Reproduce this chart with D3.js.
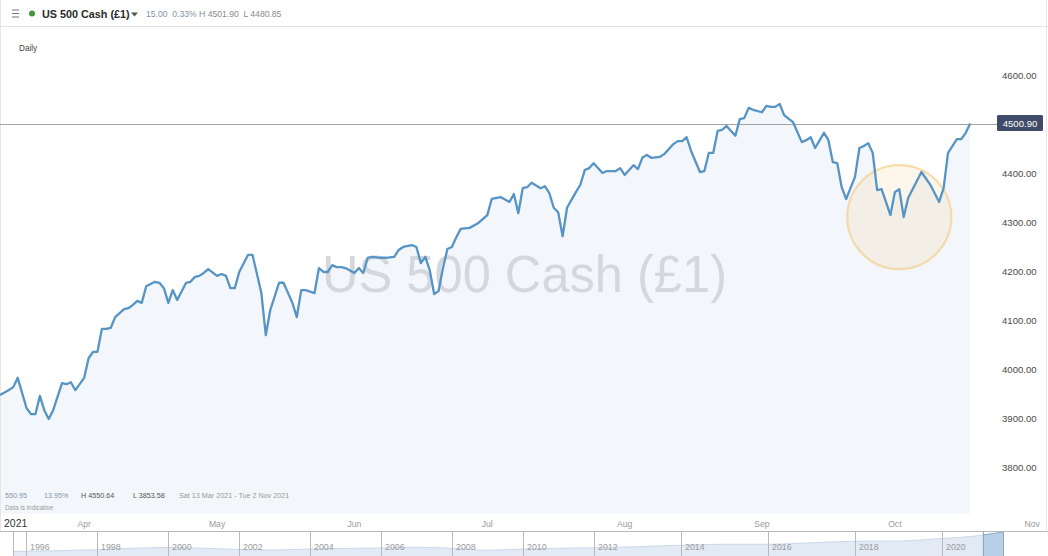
<!DOCTYPE html>
<html>
<head>
<meta charset="utf-8">
<script src="https://cdn.jsdelivr.net/npm/d3@7"></script>
<style>
  html, body { margin: 0; padding: 0; background: #fff; }
  svg { display: block; font-family: "Liberation Sans", Arial, "DejaVu Sans", sans-serif; }
</style>
</head>
<body>
<svg id="chart" width="1048" height="556"></svg>
<script>
// ---------------- DATA ----------------
const startDate = "2021-03-13";   // first day of the chart window
const endDate = "2021-11-02";     // last day of the chart window
// days since startDate for each price point
const days = [0,2,3,4,6,7,8,9,10,11,12,14,15,16,17,19,20,21,22,23,24,25,26,28,29,30,31,32,33,35,36,37,38,39,40,42,43,44,45,46,47,49,50,51,52,53,54,56,57,59,60,61,63,64,66,67,68,69,71,72,73,74,75,76,77,78,80,81,82,83,84,86,87,89,90,91,93,94,95,96,97,98,99,100,101,102,103,104,106,108,110,111,113,115,116,117,118,119,120,122,123,124,125,126,127,128,130,131,132,133,134,136,137,139,140,141,143,144,145,146,147,149,150,152,153,154,155,156,158,159,160,161,162,163,164,166,167,168,169,170,172,173,174,175,176,177,179,181,182,183,184,186,187,188,189,190,191,193,194,195,196,197,198,199,201,202,203,204,205,208,210,212,213,214,216,217,218,219];
const closes = [3947,3957,3963,3982,3920,3908,3908,3945,3916,3898,3916,3971,3969,3973,3957,3982,4022,4035,4035,4082,4082,4084,4106,4122,4124,4131,4139,4135,4169,4178,4176,4165,4135,4161,4141,4176,4178,4188,4190,4196,4204,4190,4194,4190,4165,4165,4198,4233,4233,4155,4069,4120,4176,4176,4135,4106,4161,4161,4155,4206,4198,4198,4212,4208,4208,4206,4196,4206,4196,4227,4229,4227,4227,4229,4243,4249,4253,4249,4216,4229,4202,4153,4159,4206,4245,4249,4269,4286,4288,4298,4314,4347,4351,4341,4357,4318,4369,4371,4380,4369,4373,4359,4329,4320,4271,4329,4361,4376,4406,4410,4420,4400,4404,4404,4410,4396,4416,4408,4431,4437,4431,4433,4439,4459,4465,4465,4473,4445,4402,4404,4441,4441,4486,4488,4496,4476,4510,4512,4533,4529,4524,4537,4535,4535,4541,4518,4504,4463,4467,4473,4451,4482,4467,4422,4420,4371,4347,4392,4451,4455,4461,4441,4365,4367,4314,4361,4367,4310,4349,4402,4376,4341,4369,4441,4469,4469,4482,4500.90];
const lastPrice = 4500.90;
const yTicks = [3800,3900,4000,4100,4200,4300,4400,4500,4600];
const yearLabel = "2021";
// highlighted zone (annotation): date and price of circle centre
const highlightDate = "2021-10-02";
const highlightValue = 4310;
// navigator (long-history overview)
const navYears = [1995.6,1996,1997,1998,1999,2000,2001,2002,2003,2004,2005,2006,2007,2008,2009,2010,2011,2012,2013,2014,2015,2016,2017,2018,2019,2020,2021,2021.8];
const navValues = [600,640,780,950,1250,1400,1250,1000,900,1100,1200,1300,1450,1250,850,1100,1250,1350,1550,1850,2050,2050,2350,2650,2700,3200,3700,4500];
const navTickYears = [1996,1998,2000,2002,2004,2006,2008,2010,2012,2014,2016,2018,2020];
// header / footer texts
const title = "US 500 Cash (£1)";
const headerChange = "15.00  0.33%";
const headerHL = "H 4501.90  L 4480.85";
const periodLabel = "Daily";
const statsTexts = ["550.95", "13.95%", "H 4550.64", "L 3853.58", "Sat 13 Mar 2021 - Tue 2 Nov 2021"];
const disclaimer = "Data is indicative";

// ---------------- DRAW ----------------
const W = 1048, H = 556;
const svg = d3.select("#chart");
const parse = d3.timeParse("%Y-%m-%d");
const t0 = parse(startDate), t1 = parse(endDate);
const data = days.map((d, i) => ({ date: d3.timeDay.offset(t0, d), value: closes[i] }));

const x = d3.scaleTime().domain([t0, t1]).range([0, d3.timeDay.count(t0, t1) * 4.43]);
const y = d3.scaleLinear().domain([3800, 4600]).range([467, 75]);
const plotBottom = 514;

// fill area
const area = d3.area().x(d => x(d.date)).y0(plotBottom).y1(d => y(d.value));
svg.append("path").datum(data).attr("d", area).attr("fill", "#f3f7fb");

// header
svg.append("line").attr("x1", 0).attr("x2", W).attr("y1", 26.5).attr("y2", 26.5).attr("stroke", "#e3e3e3");
[10, 13.5, 17].forEach(v => svg.append("line").attr("x1", 12).attr("x2", 19).attr("y1", v).attr("y2", v).attr("stroke", "#777").attr("stroke-width", 1));
svg.append("circle").attr("cx", 32).attr("cy", 13.5).attr("r", 3).attr("fill", "#3f9a3f");
svg.append("text").attr("x", 42).attr("y", 17.5).attr("font-size", 10.8).attr("fill", "#2a2a2a").attr("font-weight", "bold").text(title);
svg.append("path").attr("d", "M131,12.5 L138,12.5 L134.5,16.5 Z").attr("fill", "#555");
const ht = svg.append("text").attr("x", 146).attr("y", 17).attr("font-size", 8.6).attr("xml:space", "preserve");
ht.append("tspan").attr("fill", "#7f93aa").text(headerChange + " ");
ht.append("tspan").attr("fill", "#8a8a8a").text(headerHL);
svg.append("text").attr("x", 19).attr("y", 51).attr("font-size", 8.2).attr("fill", "#444").text(periodLabel);

// borders
svg.append("line").attr("x1", 0.5).attr("x2", 0.5).attr("y1", 0).attr("y2", 531).attr("stroke", "#e6e6e6");
svg.append("line").attr("x1", 1046.5).attr("x2", 1046.5).attr("y1", 0).attr("y2", 531).attr("stroke", "#e6e6e6");

// watermark
svg.append("text").attr("x", 322).attr("y", 292).attr("font-size", 52).attr("fill", "#d4d7db")
  .attr("textLength", 405).attr("lengthAdjust", "spacingAndGlyphs").text(title);

// highlight circle
svg.append("circle").attr("cx", x(parse(highlightDate))).attr("cy", y(highlightValue)).attr("r", 52)
  .attr("fill", "rgba(246,214,160,0.22)").attr("stroke", "rgba(242,205,130,0.65)").attr("stroke-width", 2.2);

// current price line
svg.append("line").attr("x1", 0).attr("x2", 997).attr("y1", Math.round(y(lastPrice)) + 0.5).attr("y2", Math.round(y(lastPrice)) + 0.5)
  .attr("stroke", "#9ea3a8").attr("stroke-width", 1);

// price line
const line = d3.line().x(d => x(d.date)).y(d => y(d.value));
svg.append("path").datum(data).attr("d", line).attr("fill", "none").attr("stroke", "#5694c6")
  .attr("stroke-width", 2.3).attr("stroke-linejoin", "round");

// y axis labels
const fmt = d3.format(".2f");
svg.append("g").selectAll("text").data(yTicks).join("text")
  .attr("x", 1002).attr("y", d => y(d) + 3.5).attr("font-size", 9.6).attr("fill", "#4a4a4a").text(d => fmt(d));
// last price tag
const ly = y(lastPrice);
svg.append("rect").attr("x", 997).attr("y", ly - 8.5).attr("width", 46).attr("height", 16).attr("rx", 1.5).attr("fill", "#3f4b68");
svg.append("text").attr("x", 1020).attr("y", ly + 3.5).attr("text-anchor", "middle").attr("font-size", 9.6).attr("fill", "#fff").text(fmt(lastPrice));

// stats row
const statsX = [5, 44, 81, 133, 179];
const statsCol = ["#7f93aa", "#7f93aa", "#555", "#555", "#999"];
svg.append("g").selectAll("text").data(statsTexts).join("text")
  .attr("x", (d, i) => statsX[i]).attr("y", 497.5).attr("font-size", 7.2).attr("fill", (d, i) => statsCol[i]).text(d => d);
svg.append("text").attr("x", 5).attr("y", 510).attr("font-size", 6.4).attr("fill", "#9a9a9a").text(disclaimer);

// x axis
svg.append("text").attr("x", 4).attr("y", 527).attr("font-size", 10.5).attr("fill", "#333").text(yearLabel);
const months = d3.timeMonth.range(d3.timeMonth.ceil(t0), t1);
svg.append("g").selectAll("text").data(months).join("text")
  .attr("x", d => x(d)).attr("y", 527).attr("text-anchor", "middle").attr("font-size", 8.6).attr("fill", "#9a9a9a")
  .text(d3.timeFormat("%b"));

// navigator
const nx = d3.scaleLinear().domain([1995.6, 1996, 2012, 2020, 2021.8]).range([13, 26, 594, 942, 1003]);
const ny = d3.scaleLinear().domain([0, 4600]).range([554.5, 531.5]);
const navData = navYears.map((yr, i) => ({ yr, v: navValues[i] }));
const navArea = d3.area().x(d => nx(d.yr)).y0(556).y1(d => ny(d.v)).curve(d3.curveMonotoneX);
svg.append("path").datum(navData).attr("d", navArea).attr("fill", "#e2ebf5");
svg.append("path").datum(navData).attr("d", d3.line().x(d => nx(d.yr)).y(d => ny(d.v)).curve(d3.curveMonotoneX))
  .attr("fill", "none").attr("stroke", "#cbd9ea").attr("stroke-width", 1);
// selected window
const winStart = 2021.2, winEnd = 2021.8;
svg.append("clipPath").attr("id", "win").append("rect")
  .attr("x", nx(winStart)).attr("y", 530).attr("width", nx(winEnd) - nx(winStart)).attr("height", 26);
svg.append("path").datum(navData).attr("d", navArea).attr("fill", "#b9cfe7").attr("clip-path", "url(#win)");
svg.append("path").datum(navData).attr("d", d3.line().x(d => nx(d.yr)).y(d => ny(d.v)).curve(d3.curveMonotoneX))
  .attr("fill", "none").attr("stroke", "#8eaacb").attr("stroke-width", 1.2).attr("clip-path", "url(#win)");
[winStart, winEnd].forEach(v => svg.append("line").attr("x1", Math.round(nx(v)) + 0.5).attr("x2", Math.round(nx(v)) + 0.5)
  .attr("y1", 531).attr("y2", 556).attr("stroke", "#8ea7c4"));
svg.append("line").attr("x1", 0).attr("x2", W).attr("y1", 531.5).attr("y2", 531.5).attr("stroke", "#b9b9b9");
const navLines = [1995.6].concat(navTickYears);
svg.append("g").selectAll("line").data(navLines).join("line")
  .attr("x1", d => Math.round(nx(d)) + 0.5).attr("x2", d => Math.round(nx(d)) + 0.5)
  .attr("y1", 531).attr("y2", 556).attr("stroke", "#b9b9b9");
svg.append("g").selectAll("text").data(navTickYears).join("text")
  .attr("x", d => nx(d) + 4).attr("y", 549.5).attr("font-size", 8.8).attr("fill", "#9a9a9a").text(d => d);
</script>
</body>
</html>
